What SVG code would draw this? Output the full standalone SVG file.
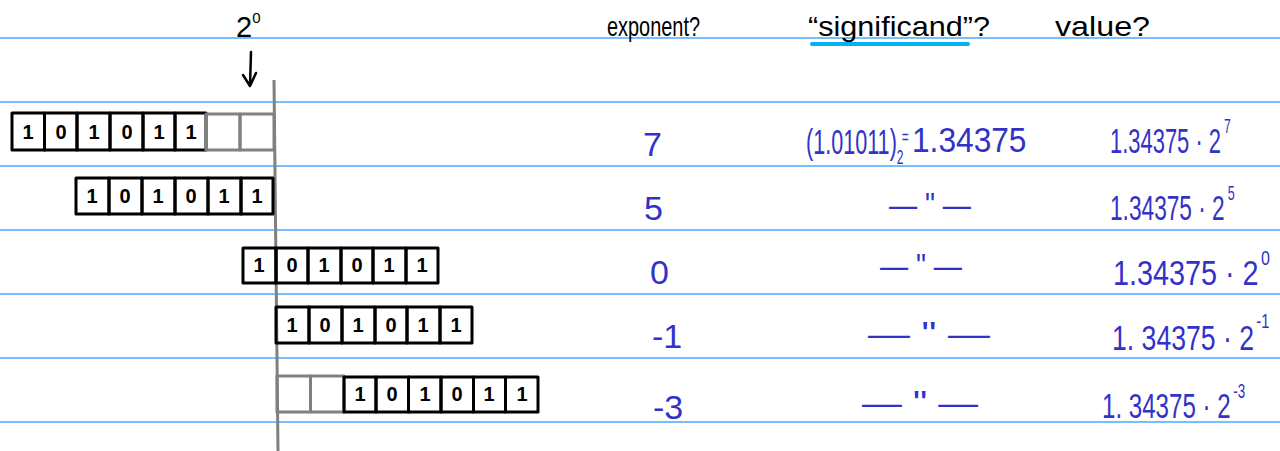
<svg xmlns="http://www.w3.org/2000/svg" width="1280" height="451" viewBox="0 0 1280 451">
<style>
.rule{stroke:#4da6ff;stroke-width:1.6}
.cell{fill:none;stroke:#000;stroke-width:3;stroke-linejoin:round}
.gcell{fill:none;stroke:#808080;stroke-width:3;stroke-linejoin:round}
.bit{font-family:"Liberation Sans",Arial,sans-serif;font-size:20px;font-weight:bold;fill:#000;text-anchor:middle}
.hdr{font-family:"Liberation Sans",Arial,sans-serif;font-size:28px;fill:#000}
.blue{font-family:"Liberation Sans",Arial,sans-serif;font-size:34px;fill:#3232c8}
.val{font-family:"Liberation Sans",Arial,sans-serif;font-size:36px;fill:#3232c8}
.sup{font-size:20px}
</style>
<rect width="1280" height="451" fill="#fff"/>
<g id="rules">
<line class="rule" x1="0" y1="38" x2="1280" y2="38"/>
<line class="rule" x1="0" y1="102" x2="1280" y2="102"/>
<line class="rule" x1="0" y1="166" x2="1280" y2="166"/>
<line class="rule" x1="0" y1="230" x2="1280" y2="230"/>
<line class="rule" x1="0" y1="294" x2="1280" y2="294"/>
<line class="rule" x1="0" y1="358" x2="1280" y2="358"/>
<line class="rule" x1="0" y1="422" x2="1280" y2="422"/>
</g>
<g id="headers">
<text class="hdr" x="236" y="37" style="font-size:29px">2<tspan dy="-14" style="font-size:15px">0</tspan></text>
<text class="hdr" x="607" y="36" textLength="93" lengthAdjust="spacingAndGlyphs">exponent?</text>
<text class="hdr" x="808" y="36" textLength="182" lengthAdjust="spacingAndGlyphs">“significand”?</text>
<line x1="812" y1="44" x2="968" y2="44" stroke="#00b0f0" stroke-width="4" stroke-linecap="round"/>
<text class="hdr" x="1055" y="36" textLength="95" lengthAdjust="spacingAndGlyphs">value?</text>
</g>
<g id="connectors">
<path d="M251 52 L250 86 M243 75 L250 86 L256 73" fill="none" stroke="#000" stroke-width="2.5" stroke-linecap="round" stroke-linejoin="round"/>
</g>
<g id="axis">
<line x1="274" y1="80" x2="278" y2="451" stroke="#808080" stroke-width="3"/>
</g>
<g id="row1">
<rect class="cell" x="12" y="113" width="32.5" height="37"/>
<rect class="cell" x="44.5" y="113" width="32.5" height="37"/>
<rect class="cell" x="77" y="113" width="33" height="37"/>
<rect class="cell" x="110" y="113" width="33" height="37"/>
<rect class="cell" x="143" y="113" width="32" height="37"/>
<rect class="cell" x="175" y="113" width="31" height="37"/>
<rect class="gcell" x="206" y="114" width="34" height="36"/>
<rect class="gcell" x="240" y="114" width="34" height="36"/>
<text class="bit" x="28" y="139">1</text>
<text class="bit" x="61" y="139">0</text>
<text class="bit" x="94" y="139">1</text>
<text class="bit" x="127" y="139">0</text>
<text class="bit" x="159" y="139">1</text>
<text class="bit" x="191" y="139">1</text>
<text class="blue" x="643" y="156">7</text>
<text class="val" transform="translate(806,154) scale(0.6,1)">(1.01011)<tspan dy="10" class="sup">2</tspan><tspan dx="-3" dy="-20" class="sup">=</tspan></text>
<text class="val" transform="translate(912,152) scale(0.88,1)">1.34375</text>
<text class="val" transform="translate(1110,153) scale(0.61,1)">1.34375 · 2<tspan dx="5" dy="-20" class="sup">7</tspan></text>
</g>
<g id="row2">
<rect class="cell" x="76" y="178" width="33" height="36"/>
<rect class="cell" x="109" y="178" width="33" height="36"/>
<rect class="cell" x="142" y="178" width="33" height="36"/>
<rect class="cell" x="175" y="178" width="33" height="36"/>
<rect class="cell" x="208" y="178" width="33" height="36"/>
<rect class="cell" x="241" y="178" width="32" height="36"/>
<text class="bit" x="92" y="203">1</text>
<text class="bit" x="125" y="203">0</text>
<text class="bit" x="158" y="203">1</text>
<text class="bit" x="191" y="203">0</text>
<text class="bit" x="224" y="203">1</text>
<text class="bit" x="257" y="203">1</text>
<text class="blue" x="644" y="220">5</text>
<text class="blue" x="889" y="216" textLength="82" lengthAdjust="spacingAndGlyphs">— " —</text>
<text class="val" transform="translate(1110,220) scale(0.63,1)">1.34375 · 2<tspan dx="5" dy="-20" class="sup">5</tspan></text>
</g>
<g id="row3">
<rect class="cell" x="243" y="248" width="33" height="35"/>
<rect class="cell" x="276" y="248" width="32" height="35"/>
<rect class="cell" x="308" y="248" width="33" height="35"/>
<rect class="cell" x="341" y="248" width="32" height="35"/>
<rect class="cell" x="373" y="248" width="33" height="35"/>
<rect class="cell" x="406" y="248" width="32" height="35"/>
<text class="bit" x="259" y="272">1</text>
<text class="bit" x="292" y="272">0</text>
<text class="bit" x="324" y="272">1</text>
<text class="bit" x="357" y="272">0</text>
<text class="bit" x="389" y="272">1</text>
<text class="bit" x="422" y="272">1</text>
<text class="blue" x="650" y="284">0</text>
<text class="blue" x="880" y="277" textLength="82" lengthAdjust="spacingAndGlyphs">— " —</text>
<text class="val" transform="translate(1113,285) scale(0.8,1)">1.34375 · 2<tspan dx="3" dy="-20" class="sup">0</tspan></text>
</g>
<g id="row4">
<rect class="cell" x="276" y="307" width="33" height="36"/>
<rect class="cell" x="309" y="307" width="33" height="36"/>
<rect class="cell" x="342" y="307" width="33" height="36"/>
<rect class="cell" x="375" y="307" width="32" height="36"/>
<rect class="cell" x="407" y="307" width="33" height="36"/>
<rect class="cell" x="440" y="307" width="32" height="36"/>
<text class="bit" x="292" y="332">1</text>
<text class="bit" x="325" y="332">0</text>
<text class="bit" x="358" y="332">1</text>
<text class="bit" x="391" y="332">0</text>
<text class="bit" x="423" y="332">1</text>
<text class="bit" x="456" y="332">1</text>
<text class="blue" x="652" y="348">-1</text>
<text class="blue" x="868" y="345" textLength="122" lengthAdjust="spacingAndGlyphs">— " —</text>
<text class="val" transform="translate(1112,350) scale(0.74,1)">1. 34375 · 2<tspan dx="3" dy="-22" class="sup">-1</tspan></text>
</g>
<g id="row5">
<rect class="gcell" x="277" y="376" width="33.5" height="36"/>
<rect class="gcell" x="310.5" y="376" width="33.5" height="36"/>
<rect class="cell" x="344" y="377" width="32" height="35"/>
<rect class="cell" x="376" y="377" width="32.5" height="35"/>
<rect class="cell" x="408.5" y="377" width="32.5" height="35"/>
<rect class="cell" x="441" y="377" width="32.5" height="35"/>
<rect class="cell" x="473.5" y="377" width="32" height="35"/>
<rect class="cell" x="505.5" y="377" width="32.5" height="35"/>
<text class="bit" x="360" y="401">1</text>
<text class="bit" x="392" y="401">0</text>
<text class="bit" x="425" y="401">1</text>
<text class="bit" x="457" y="401">0</text>
<text class="bit" x="489" y="401">1</text>
<text class="bit" x="522" y="401">1</text>
<text class="blue" x="653" y="419">-3</text>
<text class="blue" x="862" y="414" textLength="116" lengthAdjust="spacingAndGlyphs">— " —</text>
<text class="val" transform="translate(1102,418) scale(0.67,1)">1. 34375 · 2<tspan dx="4" dy="-20" class="sup">-3</tspan></text>
</g>
</svg>
